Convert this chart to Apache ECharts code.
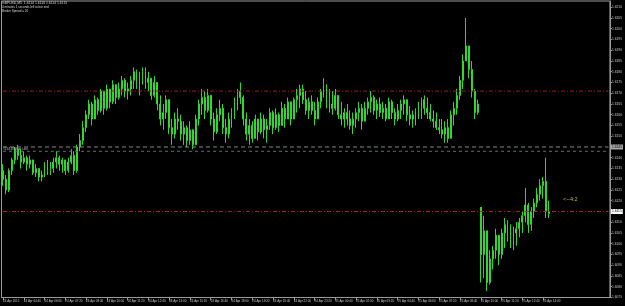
<!DOCTYPE html>
<html><head><meta charset="utf-8">
<script src="https://cdn.jsdelivr.net/npm/echarts@6/dist/echarts.min.js"></script>
<style>html,body{margin:0;padding:0;background:#000}#c{width:625px;height:306px}</style>
</head><body><div id="c"></div>
<script>
// 10-minute bars, GBPUSD 24-25 Apr 2012
const opens = [
1.6134,1.6130,1.6125,1.6134,1.6139,1.6144,1.6141,1.6138,1.6140,1.6137,
1.6139,1.6133,1.6135,1.6131,1.6132,1.6137,1.6134,1.6135,1.6138,1.6140,
1.6137,1.6139,1.6134,1.6138,1.6141,1.6134,1.6145,1.6148,1.6154,1.6160,
1.6165,1.6158,1.6167,1.6162,1.6171,1.6163,1.6172,1.6166,1.6174,1.6168,
1.6172,1.6176,1.6171,1.6172,1.6176,1.6180,1.6174,1.6177,1.6180,1.6175,
1.6177,1.6169,1.6175,1.6165,1.6158,1.6161,1.6167,1.6154,1.6151,1.6158,
1.6157,1.6151,1.6154,1.6148,1.6153,1.6146,1.6158,1.6165,1.6168,1.6162,
1.6169,1.6158,1.6152,1.6160,1.6163,1.6154,1.6151,1.6158,1.6161,1.6166,
1.6171,1.6168,1.6158,1.6151,1.6155,1.6149,1.6158,1.6152,1.6158,1.6153,
1.6155,1.6161,1.6154,1.6160,1.6155,1.6163,1.6158,1.6166,1.6158,1.6167,
1.6169,1.6172,1.6167,1.6162,1.6166,1.6162,1.6158,1.6166,1.6171,1.6174,
1.6167,
1.6165,1.6163,1.6169,1.6160,1.6158,1.6161,1.6158,1.6155,1.6158,1.6161,
1.6163,1.6157,1.6163,1.6166,1.6168,1.6162,1.6165,1.6161,1.6163,1.6158,
1.6166,1.6161,1.6158,1.6162,1.6165,1.6167,1.6160,1.6158,1.6160,1.6162,
1.6165,1.6167,1.6163,1.6161,1.6158,1.6157,1.6154,1.6153,1.6151,1.6154,
1.6149,1.6160,1.6163,1.6169,1.6176,1.6185,1.6192,1.6181,1.6171,1.6161,
1.6117,1.6095,1.6106,1.6082,1.6093,1.6097,1.6104,1.6095,1.6105,1.6109,
1.6104,1.6102,1.6105,1.6107,1.6110,1.6113,1.6118,1.6109,1.6115,1.6119,
1.6123,1.6127,1.6129,1.6114
];
const closes = [
1.6130,1.6125,1.6134,1.6139,1.6144,1.6141,1.6138,1.6140,1.6137,1.6139,
1.6133,1.6135,1.6131,1.6132,1.6137,1.6134,1.6135,1.6138,1.6140,1.6137,
1.6139,1.6134,1.6138,1.6141,1.6134,1.6145,1.6148,1.6154,1.6160,1.6165,
1.6158,1.6167,1.6162,1.6171,1.6163,1.6172,1.6166,1.6174,1.6168,1.6172,
1.6176,1.6171,1.6172,1.6176,1.6180,1.6174,1.6177,1.6180,1.6175,1.6177,
1.6169,1.6175,1.6165,1.6158,1.6161,1.6167,1.6154,1.6151,1.6158,1.6157,
1.6151,1.6154,1.6148,1.6153,1.6146,1.6158,1.6165,1.6168,1.6162,1.6169,
1.6158,1.6152,1.6160,1.6163,1.6154,1.6151,1.6158,1.6161,1.6166,1.6171,
1.6168,1.6158,1.6151,1.6155,1.6149,1.6158,1.6152,1.6158,1.6153,1.6155,
1.6161,1.6154,1.6160,1.6155,1.6163,1.6158,1.6166,1.6158,1.6167,1.6169,
1.6172,1.6167,1.6162,1.6166,1.6162,1.6158,1.6166,1.6171,1.6174,1.6167,
1.6165,
1.6163,1.6169,1.6160,1.6158,1.6161,1.6158,1.6155,1.6158,1.6161,1.6163,
1.6157,1.6163,1.6166,1.6168,1.6162,1.6165,1.6161,1.6163,1.6158,1.6166,
1.6161,1.6158,1.6162,1.6165,1.6167,1.6160,1.6158,1.6160,1.6162,1.6165,
1.6167,1.6163,1.6161,1.6158,1.6157,1.6154,1.6153,1.6151,1.6154,1.6149,
1.6160,1.6163,1.6169,1.6176,1.6185,1.6192,1.6181,1.6171,1.6161,1.6165,
1.6095,1.6106,1.6082,1.6093,1.6097,1.6104,1.6095,1.6105,1.6109,1.6104,
1.6102,1.6105,1.6107,1.6110,1.6113,1.6118,1.6109,1.6115,1.6119,1.6123,
1.6127,1.6129,1.6115,1.6115
];
const lows = [
1.6127,1.6123,1.6124,1.6132,1.6137,1.6139,1.6135,1.6137,1.6134,1.6135,
1.6132,1.6131,1.6129,1.6129,1.6131,1.6132,1.6132,1.6133,1.6135,1.6134,
1.6133,1.6132,1.6133,1.6137,1.6132,1.6133,1.6143,1.6146,1.6152,1.6158,
1.6155,1.6158,1.6160,1.6161,1.6160,1.6162,1.6163,1.6165,1.6165,1.6167,
1.6169,1.6168,1.6167,1.6169,1.6172,1.6172,1.6169,1.6174,1.6172,1.6171,
1.6167,1.6168,1.6162,1.6155,1.6153,1.6158,1.6151,1.6146,1.6149,1.6153,
1.6148,1.6146,1.6145,1.6146,1.6144,1.6146,1.6155,1.6160,1.6158,1.6161,
1.6155,1.6148,1.6151,1.6157,1.6151,1.6147,1.6149,1.6154,1.6158,1.6162,
1.6165,1.6155,1.6148,1.6146,1.6147,1.6149,1.6148,1.6151,1.6149,1.6147,
1.6153,1.6151,1.6153,1.6152,1.6155,1.6154,1.6158,1.6155,1.6158,1.6161,
1.6163,1.6165,1.6160,1.6158,1.6160,1.6155,1.6158,1.6163,1.6168,1.6163,
1.6161,
1.6160,1.6162,1.6158,1.6155,1.6154,1.6155,1.6153,1.6151,1.6154,1.6157,
1.6153,1.6157,1.6160,1.6161,1.6160,1.6158,1.6159,1.6158,1.6157,1.6158,
1.6158,1.6155,1.6157,1.6158,1.6160,1.6157,1.6155,1.6154,1.6155,1.6158,
1.6158,1.6160,1.6158,1.6157,1.6154,1.6153,1.6151,1.6149,1.6147,1.6147,
1.6149,1.6155,1.6160,1.6167,1.6172,1.6185,1.6177,1.6168,1.6158,1.6160,
1.6082,1.6084,1.6078,1.6081,1.6088,1.6093,1.6090,1.6093,1.6098,1.6101,
1.6098,1.6097,1.6099,1.6103,1.6105,1.6110,1.6105,1.6106,1.6112,1.6117,
1.6120,1.6121,1.6112,1.6112
];
const highs = [
1.6137,1.6132,1.6135,1.6140,1.6145,1.6146,1.6144,1.6143,1.6141,1.6141,
1.6139,1.6137,1.6135,1.6134,1.6138,1.6139,1.6138,1.6140,1.6143,1.6141,
1.6140,1.6139,1.6140,1.6144,1.6143,1.6146,1.6151,1.6157,1.6162,1.6167,
1.6166,1.6169,1.6168,1.6172,1.6171,1.6174,1.6172,1.6176,1.6174,1.6175,
1.6178,1.6177,1.6175,1.6178,1.6182,1.6181,1.6180,1.6182,1.6182,1.6180,
1.6177,1.6178,1.6175,1.6169,1.6165,1.6169,1.6167,1.6158,1.6161,1.6163,
1.6160,1.6157,1.6155,1.6157,1.6153,1.6160,1.6167,1.6172,1.6171,1.6172,
1.6169,1.6161,1.6163,1.6167,1.6165,1.6158,1.6161,1.6163,1.6168,1.6172,
1.6175,1.6169,1.6161,1.6158,1.6157,1.6160,1.6158,1.6161,1.6160,1.6158,
1.6163,1.6162,1.6163,1.6161,1.6166,1.6165,1.6168,1.6166,1.6168,1.6172,
1.6174,1.6174,1.6171,1.6168,1.6169,1.6166,1.6168,1.6172,1.6177,1.6174,
1.6172,
1.6171,1.6172,1.6169,1.6166,1.6163,1.6165,1.6162,1.6161,1.6163,1.6166,
1.6165,1.6166,1.6168,1.6171,1.6169,1.6167,1.6168,1.6166,1.6165,1.6168,
1.6167,1.6163,1.6165,1.6167,1.6169,1.6167,1.6164,1.6162,1.6163,1.6166,
1.6168,1.6169,1.6168,1.6165,1.6162,1.6161,1.6158,1.6158,1.6157,1.6158,
1.6162,1.6166,1.6172,1.6178,1.6188,1.6205,1.6192,1.6185,1.6172,1.6167,
1.6117,1.6113,1.6106,1.6097,1.6099,1.6107,1.6104,1.6107,1.6112,1.6111,
1.6109,1.6108,1.6110,1.6112,1.6115,1.6126,1.6119,1.6117,1.6121,1.6126,
1.6130,1.6131,1.6140,1.6120
];
const tickLabels = [
'24 Apr 2012','24 Apr 04:40','24 Apr 06:00','24 Apr 07:20','24 Apr 08:40','24 Apr 10:00',
'24 Apr 11:20','24 Apr 12:40','24 Apr 14:00','24 Apr 15:20','24 Apr 16:40','24 Apr 18:00',
'24 Apr 19:20','24 Apr 20:40','24 Apr 22:00','24 Apr 23:20','25 Apr 00:40','25 Apr 02:00',
'25 Apr 03:20','25 Apr 04:40','25 Apr 06:00','25 Apr 07:20','25 Apr 08:40','25 Apr 10:00',
'25 Apr 11:20','25 Apr 12:40','25 Apr 14:00'
];
const barsPerLabel = 7;
const slotCount = 205; // chart slots including empty right margin
const currentPrice = 1.6115;
const levelRed = 1.6171;
const levelGray = 1.6145;
const levelDash = 1.6143;

const cats = [];
for (let i = 0; i < slotCount; i++) {
  const k = i / barsPerLabel;
  cats.push(i % barsPerLabel === 0 && k < tickLabels.length ? tickLabels[k] : '');
}
const showTick = (i) => i % barsPerLabel === 0 && i / barsPerLabel < tickLabels.length;
const ohlc = opens.map((o, i) => [o, closes[i], lows[i], highs[i]]);

const chart = echarts.init(document.getElementById('c'), null, {renderer: 'canvas'});
const FONT = 'Liberation Sans';
const priceBox = (val, bg) => ({show: true, formatter: val.toFixed(4), backgroundColor: bg,
  color: '#000', fontSize: 3.3, fontFamily: FONT, padding: [1, 1], distance: 2.5, valueAnimation: false});
const levelSeries = (val, color, dash, endLabel, extra) => Object.assign({
  type: 'line', data: cats.map(() => val), silent: true, showSymbol: false, symbol: 'none',
  color: color, lineStyle: {color: color, type: dash, width: 1},
  endLabel: endLabel || {show: false}
}, extra || {});
chart.setOption({
  animation: false,
  backgroundColor: '#000',
  grid: {left: 1, right: 14, top: 1, bottom: 8.5, show: true, borderColor: '#9a9a9a', borderWidth: 1, backgroundColor: '#000'},
  xAxis: {
    type: 'category', data: cats, boundaryGap: true,
    axisLine: {show: true, lineStyle: {color: '#9a9a9a', width: 1}},
    axisTick: {show: true, interval: showTick, alignWithLabel: true, length: 3, lineStyle: {color: '#9a9a9a'}},
    axisLabel: {interval: showTick, align: 'left', fontSize: 3, fontFamily: FONT, color: '#c8c8c8', margin: 2},
    splitLine: {show: false}
  },
  yAxis: {
    type: 'value', position: 'right', min: 1.6075, max: 1.62129, interval: 0.0005,
    axisLine: {show: true, lineStyle: {color: '#9a9a9a', width: 1}},
    axisTick: {show: true, length: 2, lineStyle: {color: '#9a9a9a'}},
    axisLabel: {fontSize: 3.3, fontFamily: FONT, color: '#c8c8c8', margin: 2, showMaxLabel: false,
      formatter: v => v.toFixed(4)},
    splitLine: {show: false}
  },
  graphic: [
    {type: 'text', left: 2, top: 2, style: {text: 'GBPUSD,M5  1.6114 1.6116 1.6114 1.6115', fill: '#d8d8d8', fontSize: 3.4, fontFamily: FONT}},
    {type: 'text', left: 2, top: 5.5, style: {text: '4 minutes 1 seconds left to bar end', fill: '#d8d8d8', fontSize: 3, fontFamily: FONT}},
    {type: 'text', left: 2, top: 9.2, style: {text: 'Broker Spread = 20', fill: '#d8d8d8', fontSize: 3, fontFamily: FONT}},
    {type: 'text', left: 563, top: 196.5, style: {text: '<--4:2', fill: '#c8b45a', fontSize: 5.5, fontFamily: FONT}}
  ],
  series: [
    levelSeries(levelRed, '#a02020', [4, 2, 1, 2], null),
    levelSeries(currentPrice, '#a82828', [4, 2, 1, 2], priceBox(currentPrice, '#ffffff')),
    levelSeries(levelGray, '#8a8a8a', [4, 3], priceBox(levelGray, '#a8a8a8')),
    levelSeries(levelDash, '#5a7474', [3, 3], null, {
      markPoint: {silent: true, animation: false, symbol: 'rect', symbolSize: 0.1,
        itemStyle: {color: 'rgba(0,0,0,0)'},
        label: {show: true, position: [0, -4], formatter: '#1.6143 Pivot Line', color: '#c0c0c0', fontSize: 3, fontFamily: FONT},
        data: [{coord: [0, levelDash]}]}
    }),
    {
      type: 'candlestick',
      data: ohlc,
      barWidth: 1.4,
      itemStyle: {color: '#000', color0: '#ffffff', borderColor: '#2ed82e', borderColor0: '#2ed82e', borderWidth: 1}
    }
  ]
});
</script>
</body></html>
